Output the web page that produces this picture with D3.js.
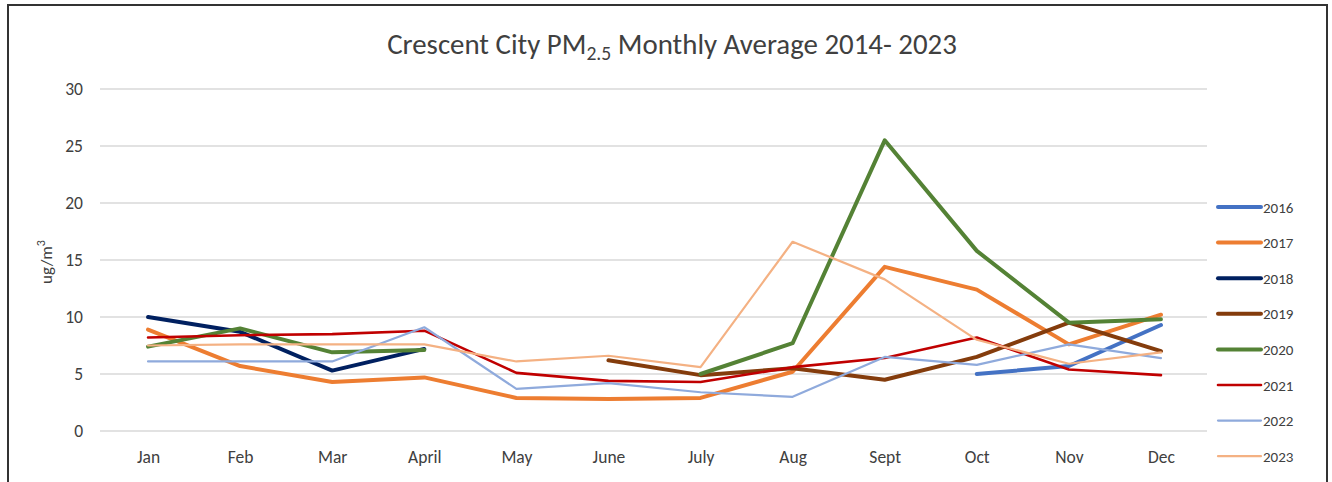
<!DOCTYPE html>
<html>
<head>
<meta charset="utf-8">
<script src="https://cdn.jsdelivr.net/npm/d3@7"></script>
<style>
  body { margin: 0; background: #fff; }
  svg { display: block; }
  text { font-family: Carlito, "Liberation Sans Narrow", "Open Sans", sans-serif; fill: #404040; }
</style>
</head>
<body>
<svg width="1332" height="482"></svg>
<script>
var months = ["Jan", "Feb", "Mar", "April", "May", "June", "July", "Aug", "Sept", "Oct", "Nov", "Dec"];
var years = ["2016", "2017", "2018", "2019", "2020", "2021", "2022", "2023"];
var yTicks = [0, 5, 10, 15, 20, 25, 30];

var v2016 = [null, null, null, null, null, null, null, null, null, 5.0, 5.7, 9.3];
var v2017 = [8.9, 5.7, 4.3, 4.7, 2.9, 2.8, 2.9, 5.2, 14.4, 12.4, 7.6, 10.2];
var v2018 = [10.0, 8.7, 5.3, 7.2, null, null, null, null, null, null, null, null];
var v2019 = [null, null, null, null, null, 6.2, 4.9, 5.5, 4.5, 6.5, 9.5, 7.0];
var v2020 = [7.4, 9.0, 6.9, 7.1, null, null, 5.0, 7.7, 25.5, 15.8, 9.5, 9.8];
var v2021 = [8.2, 8.4, 8.5, 8.8, 5.1, 4.4, 4.3, 5.6, 6.4, 8.2, 5.4, 4.9];
var v2022 = [6.1, 6.1, 6.1, 9.1, 3.7, 4.2, 3.4, 3.0, 6.5, 5.8, 7.6, 6.4];
var v2023 = [7.5, 7.6, 7.6, 7.6, 6.1, 6.6, 5.6, 16.6, 13.3, 8.0, 5.9, 6.9];

var seriesValues = [v2016, v2017, v2018, v2019, v2020, v2021, v2022, v2023];
var colors = ["#4472C4", "#ED7D31", "#002060", "#843C0C", "#548235", "#C00000", "#8FAADC", "#F4B183"];
var widths = [4, 4, 4, 4, 4, 2.6, 2.2, 2.2];

var svg = d3.select("svg");

// outer frame
svg.append("rect")
    .attr("x", 8).attr("y", 5)
    .attr("width", 1319).attr("height", 490)
    .attr("fill", "none")
    .attr("stroke", "#333")
    .attr("stroke-width", 2);

var x = d3.scalePoint()
    .domain(months)
    .range([102, 1207])
    .padding(0.5);

var y = d3.scaleLinear()
    .domain([0, 30])
    .range([431, 89]);

// gridlines
svg.append("g")
    .selectAll("line")
    .data(yTicks)
    .enter().append("line")
    .attr("x1", 100).attr("x2", 1207)
    .attr("y1", function(d) { return y(d); })
    .attr("y2", function(d) { return y(d); })
    .attr("stroke", "#d9d9d9")
    .attr("stroke-width", 1.3);

// y axis labels
var yAxis = svg.append("g")
    .attr("transform", "translate(92,0)")
    .call(d3.axisLeft(y).tickValues(yTicks).tickSize(0).tickPadding(9));
yAxis.select(".domain").remove();
yAxis.selectAll("text")
    .style("font-family", "Carlito, 'Liberation Sans Narrow', 'Open Sans', sans-serif")
    .style("font-size", "17.5px")
    .attr("fill", "#3a3a3a");

// x axis labels
var xAxis = svg.append("g")
    .attr("transform", "translate(0,448)")
    .call(d3.axisBottom(x).tickSize(0).tickPadding(3));
xAxis.select(".domain").remove();
xAxis.selectAll("text")
    .style("font-family", "Carlito, 'Liberation Sans Narrow', 'Open Sans', sans-serif")
    .style("font-size", "17.5px")
    .attr("fill", "#3a3a3a");

// y axis title
var yt = svg.append("text")
    .attr("transform", "translate(52,262) rotate(-90)")
    .attr("text-anchor", "middle")
    .style("font-size", "17px");
yt.append("tspan").text("ug/m");
yt.append("tspan").attr("dy", -7).style("font-size", "12px").text("3");

// title
var title = svg.append("text")
    .attr("x", 672).attr("y", 54)
    .attr("text-anchor", "middle")
    .style("font-size", "25px")
    .attr("fill", "#222");
title.append("tspan").text("Crescent City PM");
title.append("tspan").attr("dy", 6).style("font-size", "17px").text("2.5");
title.append("tspan").attr("dy", -6).text(" Monthly Average 2014- 2023");
var tw = title.node().getComputedTextLength();
title.style("font-size", (25 * 570 / tw) + "px");
title.selectAll("tspan").filter(function(d, i) { return i === 1; })
    .style("font-size", (17 * 570 / tw) + "px");

// lines
var line = d3.line()
    .defined(function(d) { return d != null; })
    .x(function(d, i) { return x(months[i]); })
    .y(function(d) { return y(d); });

svg.append("g")
    .selectAll("path")
    .data(seriesValues)
    .enter().append("path")
    .attr("d", line)
    .attr("fill", "none")
    .attr("stroke", function(d, i) { return colors[i]; })
    .attr("stroke-width", function(d, i) { return widths[i]; })
    .attr("stroke-linejoin", "round")
    .attr("stroke-linecap", "round");

// legend
var legend = svg.append("g")
    .selectAll("g")
    .data(years)
    .enter().append("g")
    .attr("transform", function(d, i) { return "translate(1218," + (207 + i * 35.6) + ")"; });

legend.append("line")
    .attr("x1", 0).attr("x2", 43)
    .attr("stroke", function(d, i) { return colors[i]; })
    .attr("stroke-width", function(d, i) { return widths[i]; })
    .attr("stroke-linecap", "round");

legend.append("text")
    .attr("x", 45).attr("y", 5.5)
    .style("font-size", "15px")
    .attr("fill", "#222")
    .text(function(d) { return d; });
</script>
</body>
</html>
